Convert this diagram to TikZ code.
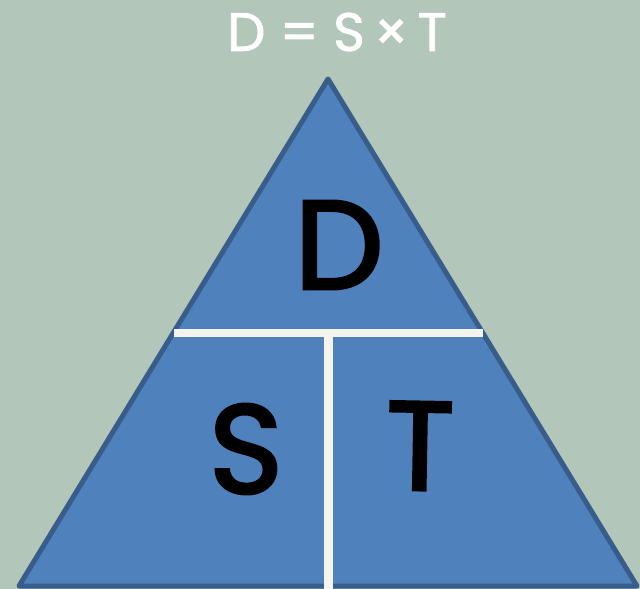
\documentclass[tikz,border=0pt]{standalone}
\usepackage{fontspec}
\setmainfont{Poppins}
\newfontfamily\midweight[FakeBold=2.5]{Poppins}
\newfontfamily\titleweight[FakeBold=1.5]{Poppins}
\definecolor{bgc}{HTML}{B2C6BA}
\definecolor{trifill}{HTML}{4F81BD}
\definecolor{triedge}{HTML}{385D8A}
\definecolor{barc}{HTML}{F4F3EE}
\begin{document}
\begin{tikzpicture}[x=1pt,y=-1pt,
  bigletter/.style={text=black,inner sep=0pt,font=\fontsize{126}{126}\midweight},
  bar/.style={draw=barc,line width=8.5pt}]
\fill[bgc] (0,0) rectangle (640,589);
\useasboundingbox (0,0) rectangle (640,589);
\coordinate (apex) at (328,79);
\coordinate (bl) at (19,586);
\coordinate (br) at (637,586);
\draw[fill=trifill,draw=triedge,line width=5pt,line join=round] (apex) -- (br) -- (bl) -- cycle;
\coordinate (hl) at (174,333);
\coordinate (hr) at (483,333);
\coordinate (vt) at (328.5,333);
\coordinate (vb) at (328.5,589);
\draw[bar] (hl) -- (hr);
\draw[bar] (vt) -- (vb);
\node[text=white,inner sep=0pt,font=\fontsize{54}{54}\titleweight] (title) at (337,32) {D = S\,×\,T};
\node[bigletter] (d) at (339,245) {D};
\node[bigletter] (s) at (246,449) {S};
\node[bigletter,rotate=-1] (t) at (420,446) {T};
\end{tikzpicture}
\end{document}
